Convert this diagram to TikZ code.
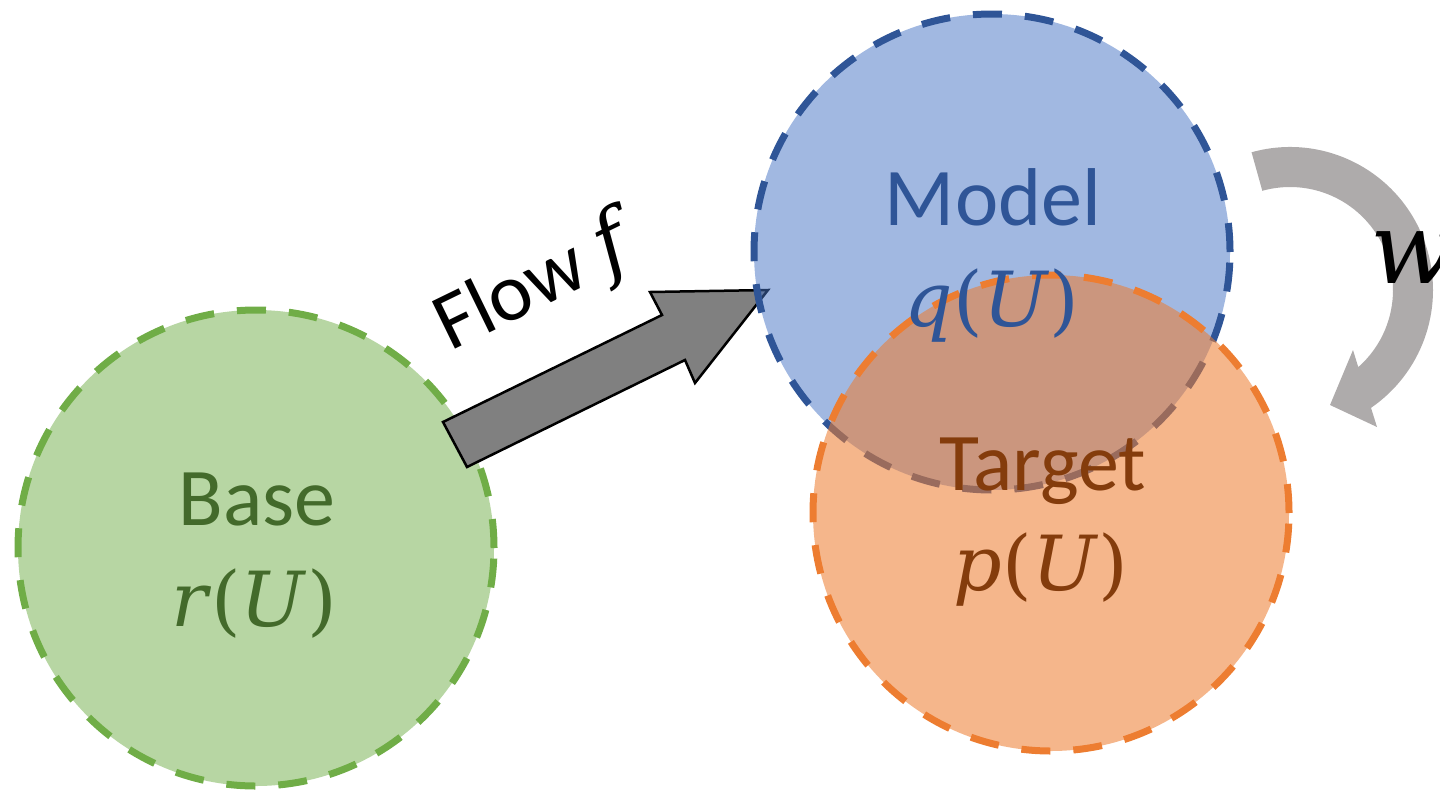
\documentclass[tikz,border=0pt]{standalone}
\usepackage{fontspec}
\setmainfont{Carlito}
\newfontfamily\mff{DejaVu Serif}
\newcommand{\mv}[1]{{\mff\itshape #1\/}}
\newcommand{\mfun}[2]{\mv{#1}{\mff(}\mv{#2}{\mff)}}
\definecolor{gborder}{HTML}{70AD47}
\definecolor{gtext}{HTML}{436A2B}
\definecolor{bfill}{HTML}{4472C4}
\definecolor{bborder}{HTML}{2F5597}
\definecolor{oborder}{HTML}{ED7D31}
\definecolor{otext}{HTML}{843C0C}
\definecolor{warrow}{HTML}{AEABAB}
\definecolor{farrow}{HTML}{808080}
\tikzset{
  distr/.style={circle, inner sep=0pt, minimum size=476pt, line width=7pt, dash pattern=on 29pt off 23pt},
  lbl/.style={inner sep=0pt, anchor=base, font=\fontsize{82}{98}\selectfont},
  mlbl/.style={inner sep=0pt, anchor=base, font=\fontsize{76}{90}\selectfont},
}
\begin{document}
\begin{tikzpicture}[x=1pt,y=-1pt]
\useasboundingbox (0,0) rectangle (1440,790);
% base circle
\node[distr, draw=gborder, fill=gborder, fill opacity=0.5, draw opacity=1] (base) at (256,548) {};
% flow arrow
\coordinate (ft1) at (443,422);
\coordinate (ft2) at (467,467);
\coordinate (fs2) at (685,360);
\coordinate (fh2) at (695,383);
\coordinate (ftip) at (768,290);
\coordinate (fh1) at (650,292);
\coordinate (fs1) at (662,315);
\draw[fill=farrow, line width=2.5pt, line join=miter] (ft1) -- (ft2) -- (fs2) -- (fh2) -- (ftip) -- (fh1) -- (fs1) -- cycle;
% model circle
\node[distr, draw=bborder, fill=bfill, fill opacity=0.5, draw opacity=1] (model) at (992,252) {};
% target circle
\node[distr, draw=oborder, fill=oborder, fill opacity=0.56, draw opacity=1] (target) at (1051,513) {};
% w arrow
\coordinate (wc) at (1290,290);
\coordinate (wh1) at (1377,427);
\coordinate (wtip) at (1330,405);
\coordinate (wh2) at (1353,350);
\fill[warrow] ([shift={(wc)}]-105.6:143) arc[start angle=-105.6, end angle=55.5, radius=143]
  -- (wh1) -- (wtip) -- (wh2) -- ([shift={(wc)}]48.5:103)
  arc[start angle=48.5, end angle=-105.6, radius=103] -- cycle;
% labels
\node[lbl, text=gtext] (baset) at (257,525) {Base};
\node[mlbl, text=gtext] (basem) at (254,626) {\mfun{r}{U}};
\node[lbl, text=bborder] (modelt) at (993,225) {Model};
\node[mlbl, text=bborder] (modelm) at (992,326) {\mfun{q}{U}};
\node[lbl, text=otext] (targett) at (1043,490) {Target};
\node[mlbl, text=otext] (targetm) at (1041,590) {\mfun{p}{U}};
\node[lbl, anchor=base west, rotate=26] (flowt) at (450,352) {Flow \mv{f}};
\node[inner sep=0pt, anchor=base west, font=\fontsize{100}{112}\selectfont] (wt) at (1370,283) {\mv{w}};
\end{tikzpicture}
\end{document}
